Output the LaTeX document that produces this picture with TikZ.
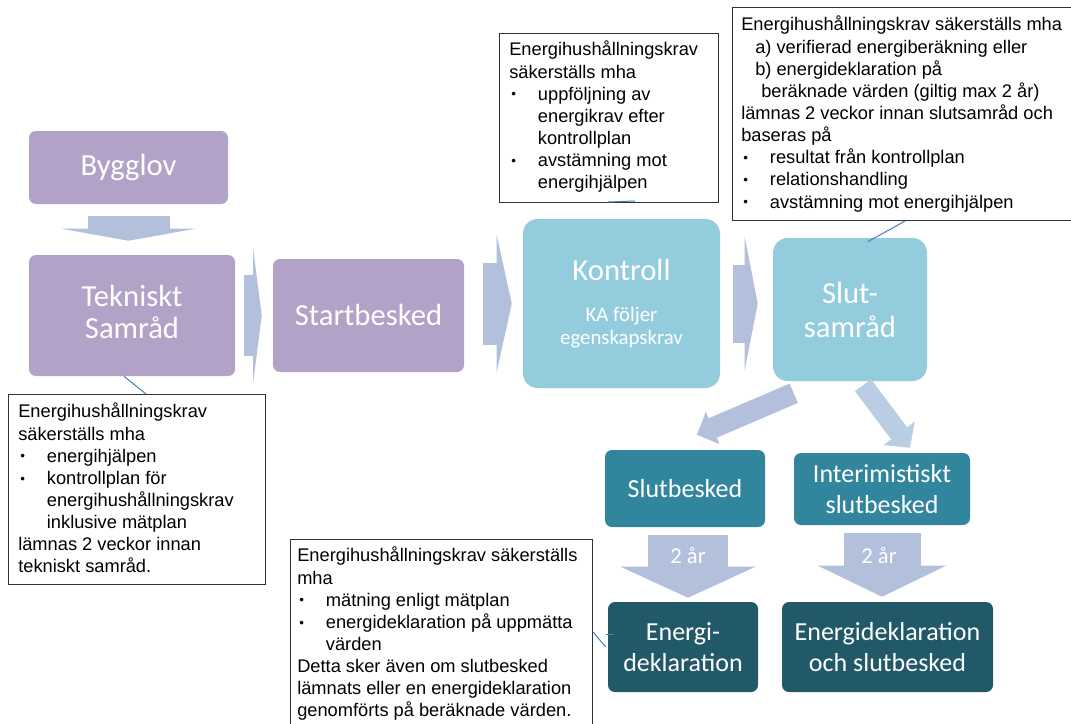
\documentclass[tikz,border=0pt]{standalone}
\usepackage{fontspec}
\setmainfont{Carlito}
\newfontfamily\arialf{Liberation Sans}
\usetikzlibrary{arrows.meta,calc}
\definecolor{purp}{HTML}{B3A2C7}
\definecolor{lblue}{HTML}{93CDDD}
\definecolor{teal1}{HTML}{31859C}
\definecolor{dteal}{HTML}{215968}
\definecolor{arrc}{HTML}{B2C0DC}
\definecolor{arrl}{HTML}{B9CDE5}
\definecolor{linec}{HTML}{4A7EBB}
\newcommand{\bu}{\makebox[21.5pt][l]{\hspace{1.5pt}\raisebox{1pt}{\fontsize{10}{12}\selectfont •}}}
\newcommand{\ii}{\hspace*{21.5pt}}
\begin{document}
\begin{tikzpicture}[x=0.75pt,y=-0.75pt,
  sz/.style 2 args={minimum width=#1*0.75pt, minimum height=#2*0.75pt},
  proc/.style={rectangle, rounded corners=5.25pt, inner sep=0pt, text=white, align=center, font=\fontsize{23}{25.5}\selectfont},
  procbig/.style={proc, rounded corners=11pt},
  procsmall/.style={proc, font=\fontsize{19.5}{23.6}\selectfont},
  cbox/.style={draw=black!80, line width=0.75pt, fill=white, rectangle, inner sep=0pt, anchor=north west},
  ctext/.style={anchor=north west, inner sep=0pt, align=left, font=\arialf\fontsize{13.7}{16.6}\selectfont},
  barrow/.style n args={4}{draw=#4, line width=#1, -{Triangle[width=#2, length=#3, line width=0pt]}},
  cline/.style={draw=linec, line width=0.75pt},
  lab/.style={inner sep=0pt, text=white, font=\fontsize{17}{20}\selectfont},
]
\fill[white] (0,0) rectangle (1071,724);
\useasboundingbox (0,0) rectangle (1071,724);

% process boxes
\node[proc, fill=purp, sz={199}{73}] (byg) at (128.5,167.5) {Bygglov};
\node[proc, fill=purp, sz={206}{121}] (tek) at (132,315.5) {\raisebox{2pt}{\begin{tabular}{@{}c@{}}Tekniskt\\[-1.2pt]Samråd\end{tabular}}};
\node[proc, fill=purp, sz={191}{113}] (start) at (368.5,315.5) {\raisebox{1.5pt}{Startbesked}};
\node[procbig, fill=lblue, sz={197}{169}, font=\fontsize{15.6}{17.25}\selectfont] (kon) at (621.5,303.5) {{\fontsize{23}{25}\selectfont Kontroll}\\[13.5pt]KA följer\\egenskapskrav};
\node[procbig, fill=lblue, sz={154}{143}] (slut) at (850,309.5) {Slut-\\samråd};
\node[procsmall, fill=teal1, sz={160}{77}] (sb) at (685,488.5) {Slutbesked};
\node[procsmall, fill=teal1, sz={176}{72}] (ib) at (882,489) {Interimistiskt\\slutbesked};
\node[procsmall, fill=dteal, sz={150}{90}] (ed) at (683,647) {Energi-\\deklaration};
\node[procsmall, fill=dteal, sz={211}{90}] (es) at (887.5,647) {Energideklaration\\och slutbesked};

% block arrows
\draw[barrow={61.5pt}{100.5pt}{9pt}{arrc}, shorten <=9pt, shorten >=10.5pt] (byg.south) -- (byg.south |- tek.north);
\draw[barrow={60.75pt}{101.25pt}{6.5pt}{arrc}, shorten <=6.75pt, shorten >=8.25pt] (tek.east) -- (start.west);
\draw[barrow={61.5pt}{102.75pt}{11.25pt}{arrc}, shorten <=14.25pt, shorten >=8.25pt] (start.east |- kon.west) -- (kon.west);
\draw[barrow={58.5pt}{99.75pt}{9.75pt}{arrc}, shorten <=9.75pt, shorten >=11.25pt] (kon.east) -- (kon.east -| slut.west);
\draw[barrow={15.75pt}{26.25pt}{12.75pt}{arrc}] ($(slut.south west)+(21,12)$) -- ($(sb.north)+(12,-15)$);
\draw[barrow={15pt}{29.25pt}{13.5pt}{arrl}] ($(slut.south)+(13,4)$) -- ($(ib.north)+(28,-5)$);
\coordinate (a5) at ($(sb.south)+(3,8)$);
\coordinate (b5) at ($(a5 |- ed.north)+(0,-4)$);
\draw[barrow={60pt}{101.25pt}{23.25pt}{arrc}] (a5) -- (b5);
\draw[barrow={57.75pt}{96pt}{23.25pt}{arrc}, shorten <=6pt, shorten >=3.75pt] (ib.south) -- (ib.south |- es.north);
\node[lab] (l1) at (688,556) {2 år};
\node[lab] (l2) at (879,556) {2 år};

% callouts
\node[cbox, sz={219}{169}] (cA) at (499,33) {};
\node[ctext] (tA) at ($(cA.north west)+(10,8)$) {Energihushållningskrav\\säkerställs mha\\\bu uppföljning av\\\ii energikrav efter\\\ii kontrollplan\\\bu avstämning mot\\\ii energihjälpen};
\node[cbox, sz={345}{213}] (cB) at (732,7) {};
\node[ctext] (tB) at ($(cB.north west)+(9,9)$) {Energihushållningskrav säkerställs mha\\\hspace*{10.5pt}a) verifierad energiberäkning eller\\\hspace*{10.5pt}b) energideklaration på\\\hspace*{15pt}beräknade värden (giltig max 2 år)\\lämnas 2 veckor innan slutsamråd och\\baseras på\\\bu resultat från kontrollplan\\\bu relationshandling\\\bu avstämning mot energihjälpen};
\node[cbox, sz={257}{190}] (cC) at (8,394) {};
\node[ctext] (tC) at ($(cC.north west)+(10,9)$) {Energihushållningskrav\\säkerställs mha\\\bu energihjälpen\\\bu kontrollplan för\\\ii energihushållningskrav\\\ii inklusive mätplan\\lämnas 2 veckor innan\\tekniskt samråd.};
\node[cbox, sz={302}{195}] (cD) at (290,539) {};
\node[ctext] (tD) at ($(cD.north west)+(7,8)$) {Energihushållningskrav säkerställs\\mha\\\bu mätning enligt mätplan\\\bu energideklaration på uppmätta\\\ii värden\\Detta sker även om slutbesked\\lämnats eller en energideklaration\\genomförts på beräknade värden.};

% callout pointers
\draw[cline] ($(tek.south)+(-8,0)$) -- ($(cC.north west)+(138,0)$);
\draw[cline] ($(cA.south west)+(109,-1)$) -- ($(cA.south west)+(136,-2)$);
\draw[cline] ($(cB.south west)+(173,0)$) -- ($(slut.north west)+(95,4)$);
\draw[cline] ($(cD.north east)+(0,93)$) -- ($(ed.west)+(-2,0)$);
\draw[cline] ($(ed.west)+(-2,-13)$) -- ($(ed.west)+(6,-13)$);
\end{tikzpicture}
\end{document}
